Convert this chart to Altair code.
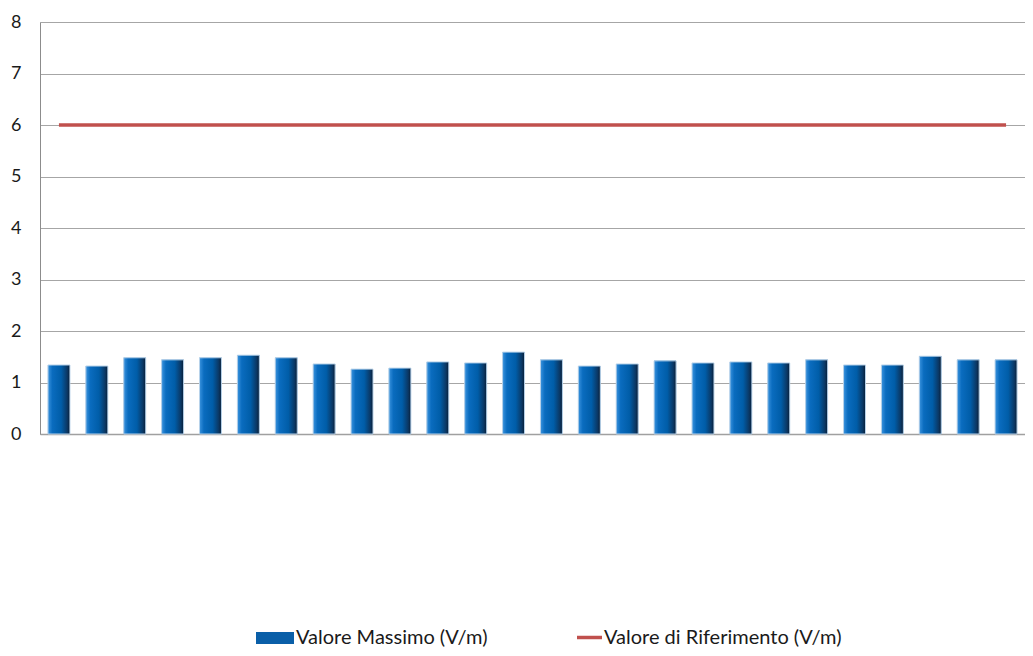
import altair as alt
import pandas as pd

# Data
punti = [str(i) for i in range(1, 27)]
valore_massimo = [1.34, 1.32, 1.48, 1.44, 1.48, 1.53, 1.48, 1.36, 1.26, 1.28,
                  1.40, 1.38, 1.59, 1.44, 1.32, 1.36, 1.42, 1.38, 1.40, 1.38,
                  1.44, 1.34, 1.34, 1.51, 1.44, 1.44]
valore_riferimento = [6, 6, 6, 6, 6, 6, 6, 6, 6, 6, 6, 6, 6,
                      6, 6, 6, 6, 6, 6, 6, 6, 6, 6, 6, 6, 6]
serie_bar = "Valore Massimo (V/m)"
serie_line = "Valore di Riferimento (V/m)"
y_ticks = [0, 1, 2, 3, 4, 5, 6, 7, 8]

df = pd.DataFrame({
    "punto": punti,
    "massimo": valore_massimo,
    "riferimento": valore_riferimento,
    "s_bar": [serie_bar] * len(punti),
    "s_line": [serie_line] * len(punti),
})

FONT = "Lato"

x_enc = alt.X("punto:N", sort=punti,
              scale=alt.Scale(paddingInner=0.42, paddingOuter=0.21),
              axis=alt.Axis(title=None, labels=False, ticks=False, grid=False,
                            domainColor="#a0a0a0", domainWidth=1.5))
y_enc = alt.Y("massimo:Q", scale=alt.Scale(domain=[0, 8], nice=False),
              axis=alt.Axis(title=None, values=y_ticks, ticks=False, grid=True,
                            gridColor="#a6a6a6", gridWidth=1,
                            domainColor="#8c8c8c", labelFont=FONT,
                            labelFontSize=18, labelColor="#1a1a1a",
                            labelPadding=19))

base = alt.Chart(df)

bars_legend = base.mark_bar().encode(
    x=x_enc, y=y_enc,
    fill=alt.Fill("s_bar:N",
                  scale=alt.Scale(domain=[serie_bar], range=["#0a5fa8"]),
                  legend=alt.Legend(orient="none", legendX=216, legendY=597,
                                    title=None,
                                    symbolType="M-1,-0.32L1,-0.32L1,0.32L-1,0.32Z",
                                    symbolSize=1444, symbolStrokeWidth=0,
                                    labelFont=FONT, labelFontSize=20,
                                    labelLimit=0,
                                    labelColor="#1a1a1a", labelOffset=2)),
)

gradient = alt.Gradient(
    gradient="linear", x1=0, x2=1, y1=0, y2=0,
    stops=[alt.GradientStop(color="#3a93de", offset=0),
           alt.GradientStop(color="#0a6cbf", offset=0.2),
           alt.GradientStop(color="#005da8", offset=0.6),
           alt.GradientStop(color="#0b3763", offset=0.88),
           alt.GradientStop(color="#061d36", offset=1)])

bars = base.mark_bar(color=gradient, stroke="#b9d3ea", strokeWidth=1).encode(
    x=x_enc, y="massimo:Q",
)

line = base.mark_line(strokeWidth=3.5).encode(
    x=x_enc,
    y=alt.Y("riferimento:Q"),
    stroke=alt.Stroke("s_line:N",
                      scale=alt.Scale(domain=[serie_line], range=["#c0504d"]),
                      legend=alt.Legend(orient="none", legendX=535, legendY=601,
                                        title=None, symbolType="stroke",
                                        symbolSize=625, symbolStrokeWidth=3.5,
                                        labelFont=FONT, labelFontSize=20,
                                        labelLimit=0,
                                        labelColor="#1a1a1a", labelOffset=0)),
)

chart = alt.layer(bars_legend, bars, line).properties(
    width=985, height=412,
    padding={"left": 32, "top": 14, "right": 0, "bottom": 214},
    autosize=alt.AutoSizeParams(type="none"),
).configure_view(stroke=None).configure(background="white")

chart.save("out.html", embed_options={"renderer": "svg", "actions": False})
